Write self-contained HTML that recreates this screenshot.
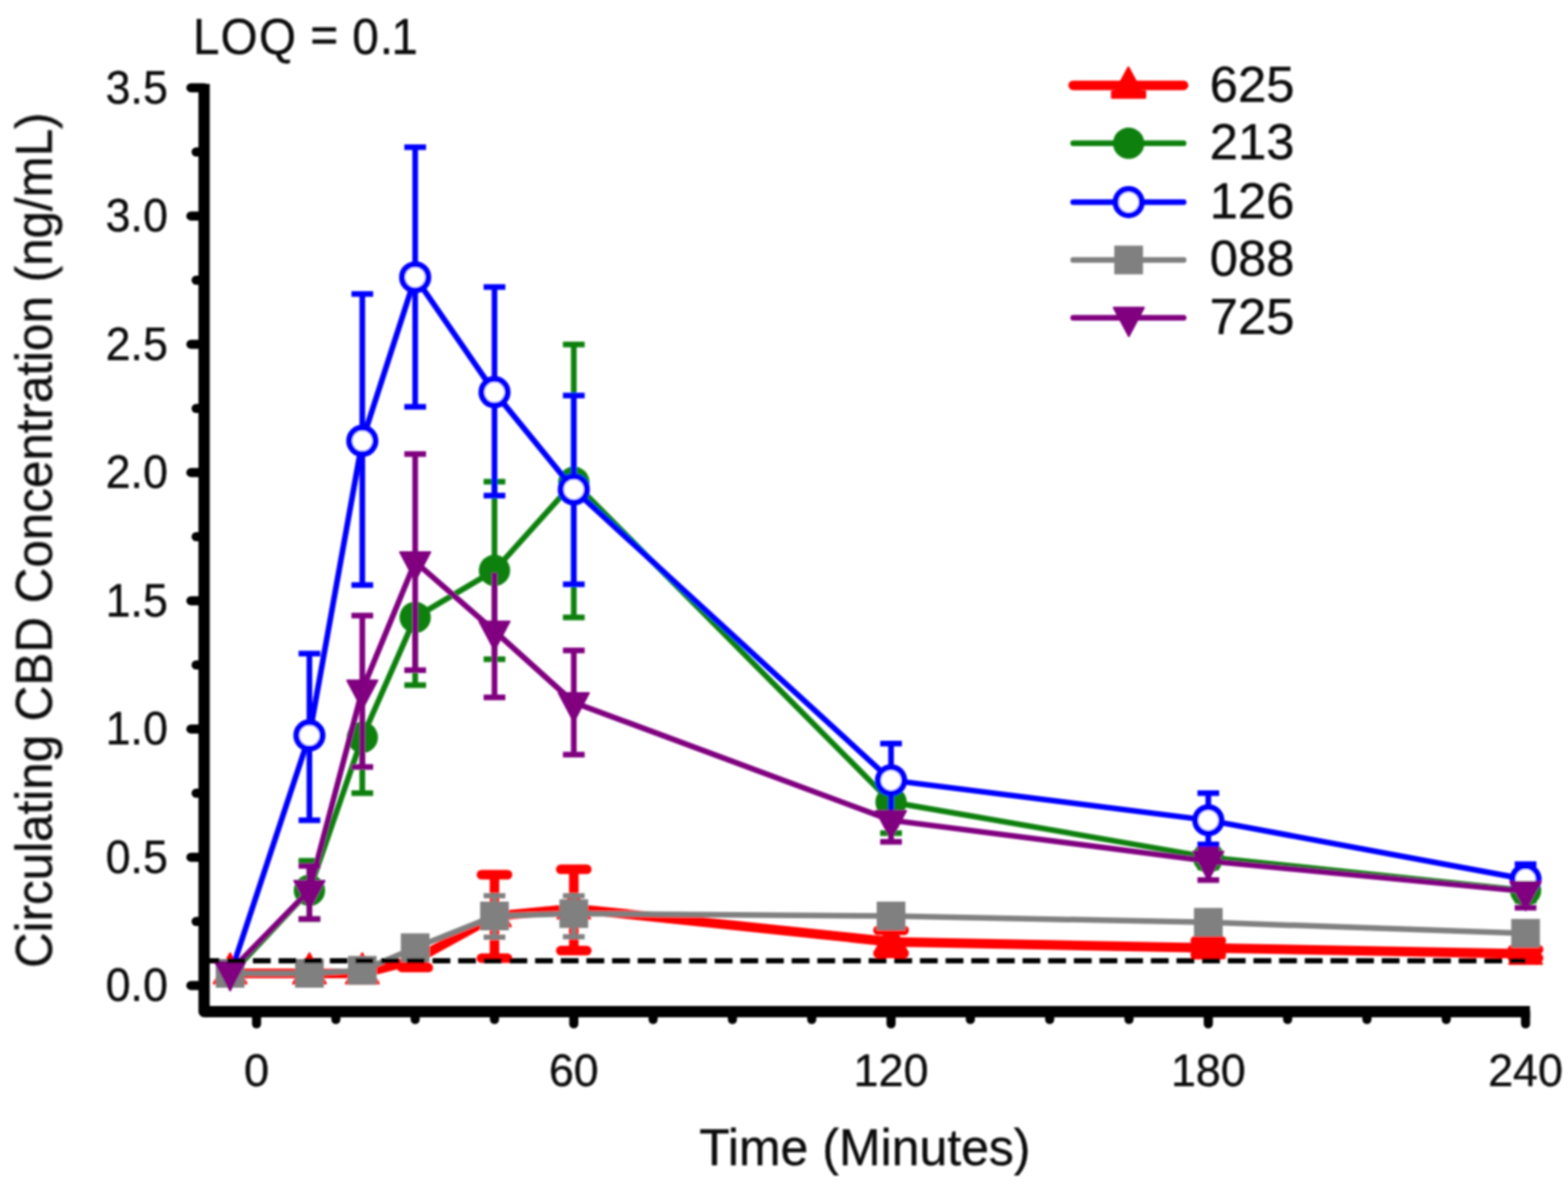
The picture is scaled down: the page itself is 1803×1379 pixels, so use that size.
<!DOCTYPE html>
<html><head><meta charset="utf-8"><title>Circulating CBD Concentration</title>
<style>html,body{margin:0;padding:0;background:#fff;overflow:hidden;}svg{display:block;}</style>
</head><body>
<svg width="1803" height="1379" viewBox="0 0 1803 1379"><defs><filter id="soft" x="0" y="0" width="100%" height="100%" filterUnits="userSpaceOnUse"><feGaussianBlur stdDeviation="1.3"/></filter></defs><rect width="1803" height="1379" fill="#fff"/><g filter="url(#soft)"><text x="193" y="1151.2" text-anchor="end" font-size="53" textLength="71.5" lengthAdjust="spacingAndGlyphs" font-family="Liberation Sans, Arial, sans-serif" fill="#111" stroke="#111" stroke-width="0.45">0.0</text>
<text x="193" y="1003.7" text-anchor="end" font-size="53" textLength="71.5" lengthAdjust="spacingAndGlyphs" font-family="Liberation Sans, Arial, sans-serif" fill="#111" stroke="#111" stroke-width="0.45">0.5</text>
<text x="193" y="856.2" text-anchor="end" font-size="53" textLength="71.5" lengthAdjust="spacingAndGlyphs" font-family="Liberation Sans, Arial, sans-serif" fill="#111" stroke="#111" stroke-width="0.45">1.0</text>
<text x="193" y="708.7" text-anchor="end" font-size="53" textLength="71.5" lengthAdjust="spacingAndGlyphs" font-family="Liberation Sans, Arial, sans-serif" fill="#111" stroke="#111" stroke-width="0.45">1.5</text>
<text x="193" y="561.2" text-anchor="end" font-size="53" textLength="71.5" lengthAdjust="spacingAndGlyphs" font-family="Liberation Sans, Arial, sans-serif" fill="#111" stroke="#111" stroke-width="0.45">2.0</text>
<text x="193" y="413.7" text-anchor="end" font-size="53" textLength="71.5" lengthAdjust="spacingAndGlyphs" font-family="Liberation Sans, Arial, sans-serif" fill="#111" stroke="#111" stroke-width="0.45">2.5</text>
<text x="193" y="266.2" text-anchor="end" font-size="53" textLength="71.5" lengthAdjust="spacingAndGlyphs" font-family="Liberation Sans, Arial, sans-serif" fill="#111" stroke="#111" stroke-width="0.45">3.0</text>
<text x="193" y="118.7" text-anchor="end" font-size="53" textLength="71.5" lengthAdjust="spacingAndGlyphs" font-family="Liberation Sans, Arial, sans-serif" fill="#111" stroke="#111" stroke-width="0.45">3.5</text>
<text x="295.0" y="1249" text-anchor="middle" font-size="52" textLength="29" lengthAdjust="spacingAndGlyphs" font-family="Liberation Sans, Arial, sans-serif" fill="#111" stroke="#111" stroke-width="0.45">0</text>
<text x="659.8" y="1249" text-anchor="middle" font-size="52" textLength="57" lengthAdjust="spacingAndGlyphs" font-family="Liberation Sans, Arial, sans-serif" fill="#111" stroke="#111" stroke-width="0.45">60</text>
<text x="1024.6" y="1249" text-anchor="middle" font-size="52" textLength="86" lengthAdjust="spacingAndGlyphs" font-family="Liberation Sans, Arial, sans-serif" fill="#111" stroke="#111" stroke-width="0.45">120</text>
<text x="1389.4" y="1249" text-anchor="middle" font-size="52" textLength="86" lengthAdjust="spacingAndGlyphs" font-family="Liberation Sans, Arial, sans-serif" fill="#111" stroke="#111" stroke-width="0.45">180</text>
<text x="1754.2" y="1249" text-anchor="middle" font-size="52" textLength="86" lengthAdjust="spacingAndGlyphs" font-family="Liberation Sans, Arial, sans-serif" fill="#111" stroke="#111" stroke-width="0.45">240</text>
<text x="994.5" y="1339.5" text-anchor="middle" font-size="58.5" textLength="381" lengthAdjust="spacingAndGlyphs" font-family="Liberation Sans, Arial, sans-serif" fill="#111" stroke="#111" stroke-width="0.45">Time (Minutes)</text>
<text transform="translate(59.5,621.3) rotate(-90)" x="0" y="0" text-anchor="middle" font-size="58.4" textLength="984" lengthAdjust="spacingAndGlyphs" font-family="Liberation Sans, Arial, sans-serif" fill="#111" stroke="#111" stroke-width="0.45">Circulating CBD Concentration (ng/mL)</text>
<text transform="scale(0.947,1)" x="234.1 267.6 314.5 360.1 376.6 411.2 427.7 461.2 475.2" y="62.2 62.2 62.2 62.2 60.4 62.2 62.2 62.2 62.2" font-size="58" font-family="Liberation Sans, Arial, sans-serif" fill="#111" stroke="#111" stroke-width="0.45">LOQ = 0.1</text>
<g>
<line x1="477.4" y1="1103.9" x2="477.4" y2="1112.8" stroke="#ff0000" stroke-width="11"/>
<line x1="462.4" y1="1112.8" x2="492.4" y2="1112.8" stroke="#ff0000" stroke-width="11" stroke-linecap="round"/>
<line x1="568.6" y1="1053.8" x2="568.6" y2="1006.0" stroke="#ff0000" stroke-width="11"/>
<line x1="553.6" y1="1006.0" x2="583.6" y2="1006.0" stroke="#ff0000" stroke-width="11" stroke-linecap="round"/>
<line x1="568.6" y1="1053.8" x2="568.6" y2="1102.1" stroke="#ff0000" stroke-width="11"/>
<line x1="553.6" y1="1102.1" x2="583.6" y2="1102.1" stroke="#ff0000" stroke-width="11" stroke-linecap="round"/>
<line x1="659.8" y1="1044.9" x2="659.8" y2="999.8" stroke="#ff0000" stroke-width="11"/>
<line x1="644.8" y1="999.8" x2="674.8" y2="999.8" stroke="#ff0000" stroke-width="11" stroke-linecap="round"/>
<line x1="659.8" y1="1044.9" x2="659.8" y2="1093.3" stroke="#ff0000" stroke-width="11"/>
<line x1="644.8" y1="1093.3" x2="674.8" y2="1093.3" stroke="#ff0000" stroke-width="11" stroke-linecap="round"/>
<line x1="1024.6" y1="1083.2" x2="1024.6" y2="1070.0" stroke="#ff0000" stroke-width="11"/>
<line x1="1009.6" y1="1070.0" x2="1039.6" y2="1070.0" stroke="#ff0000" stroke-width="11" stroke-linecap="round"/>
<line x1="1024.6" y1="1083.2" x2="1024.6" y2="1096.5" stroke="#ff0000" stroke-width="11"/>
<line x1="1009.6" y1="1096.5" x2="1039.6" y2="1096.5" stroke="#ff0000" stroke-width="11" stroke-linecap="round"/>
<line x1="1389.4" y1="1090.3" x2="1389.4" y2="1081.8" stroke="#ff0000" stroke-width="11"/>
<line x1="1374.4" y1="1081.8" x2="1404.4" y2="1081.8" stroke="#ff0000" stroke-width="11" stroke-linecap="round"/>
<line x1="1389.4" y1="1090.3" x2="1389.4" y2="1098.0" stroke="#ff0000" stroke-width="11"/>
<line x1="1374.4" y1="1098.0" x2="1404.4" y2="1098.0" stroke="#ff0000" stroke-width="11" stroke-linecap="round"/>
<line x1="1754.2" y1="1097.1" x2="1754.2" y2="1092.1" stroke="#ff0000" stroke-width="11"/>
<line x1="1739.2" y1="1092.1" x2="1769.2" y2="1092.1" stroke="#ff0000" stroke-width="11" stroke-linecap="round"/>
<line x1="1754.2" y1="1097.1" x2="1754.2" y2="1101.8" stroke="#ff0000" stroke-width="11"/>
<line x1="1739.2" y1="1101.8" x2="1769.2" y2="1101.8" stroke="#ff0000" stroke-width="11" stroke-linecap="round"/>
<polyline points="264.6,1119.5 355.8,1119.5 416.6,1119.5 477.4,1103.9 568.6,1053.8 659.8,1044.9 1024.6,1083.2 1389.4,1090.3 1754.2,1097.1" fill="none" stroke="#ff0000" stroke-width="11" stroke-linejoin="round" stroke-linecap="round"/>
<path d="M264.6 1096.2L283.6 1131.2L245.6 1131.2Z" fill="#ff0000" stroke="#ff0000" stroke-width="2" stroke-linejoin="round"/>
<path d="M355.8 1096.2L374.8 1131.2L336.8 1131.2Z" fill="#ff0000" stroke="#ff0000" stroke-width="2" stroke-linejoin="round"/>
<path d="M416.6 1096.2L435.6 1131.2L397.6 1131.2Z" fill="#ff0000" stroke="#ff0000" stroke-width="2" stroke-linejoin="round"/>
<path d="M477.4 1080.6L496.4 1115.6L458.4 1115.6Z" fill="#ff0000" stroke="#ff0000" stroke-width="2" stroke-linejoin="round"/>
<path d="M568.6 1030.4L587.6 1065.4L549.6 1065.4Z" fill="#ff0000" stroke="#ff0000" stroke-width="2" stroke-linejoin="round"/>
<path d="M659.8 1021.6L678.8 1056.6L640.8 1056.6Z" fill="#ff0000" stroke="#ff0000" stroke-width="2" stroke-linejoin="round"/>
<path d="M1024.6 1059.9L1043.6 1094.9L1005.6 1094.9Z" fill="#ff0000" stroke="#ff0000" stroke-width="2" stroke-linejoin="round"/>
<path d="M1389.4 1067.0L1408.4 1102.0L1370.4 1102.0Z" fill="#ff0000" stroke="#ff0000" stroke-width="2" stroke-linejoin="round"/>
<path d="M1754.2 1073.8L1773.2 1108.8L1735.2 1108.8Z" fill="#ff0000" stroke="#ff0000" stroke-width="2" stroke-linejoin="round"/>
</g>
<g>
<line x1="355.8" y1="1024.0" x2="355.8" y2="990.0" stroke="#0a800a" stroke-width="6.5"/>
<line x1="343.3" y1="990.0" x2="368.3" y2="990.0" stroke="#0a800a" stroke-width="6.5" stroke-linecap="butt"/>
<line x1="355.8" y1="1024.0" x2="355.8" y2="1057.0" stroke="#0a800a" stroke-width="6.5"/>
<line x1="343.3" y1="1057.0" x2="368.3" y2="1057.0" stroke="#0a800a" stroke-width="6.5" stroke-linecap="butt"/>
<line x1="416.6" y1="848.1" x2="416.6" y2="912.2" stroke="#0a800a" stroke-width="6.5"/>
<line x1="404.1" y1="912.2" x2="429.1" y2="912.2" stroke="#0a800a" stroke-width="6.5" stroke-linecap="butt"/>
<line x1="477.4" y1="710.1" x2="477.4" y2="788.0" stroke="#0a800a" stroke-width="6.5"/>
<line x1="464.9" y1="788.0" x2="489.9" y2="788.0" stroke="#0a800a" stroke-width="6.5" stroke-linecap="butt"/>
<line x1="568.6" y1="656.1" x2="568.6" y2="554.0" stroke="#0a800a" stroke-width="6.5"/>
<line x1="556.1" y1="554.0" x2="581.1" y2="554.0" stroke="#0a800a" stroke-width="6.5" stroke-linecap="butt"/>
<line x1="568.6" y1="656.1" x2="568.6" y2="758.2" stroke="#0a800a" stroke-width="6.5"/>
<line x1="556.1" y1="758.2" x2="581.1" y2="758.2" stroke="#0a800a" stroke-width="6.5" stroke-linecap="butt"/>
<line x1="659.8" y1="554.6" x2="659.8" y2="396.2" stroke="#0a800a" stroke-width="6.5"/>
<line x1="647.3" y1="396.2" x2="672.3" y2="396.2" stroke="#0a800a" stroke-width="6.5" stroke-linecap="butt"/>
<line x1="659.8" y1="554.6" x2="659.8" y2="710.1" stroke="#0a800a" stroke-width="6.5"/>
<line x1="647.3" y1="710.1" x2="672.3" y2="710.1" stroke="#0a800a" stroke-width="6.5" stroke-linecap="butt"/>
<line x1="1024.6" y1="922.5" x2="1024.6" y2="909.2" stroke="#0a800a" stroke-width="6.5"/>
<line x1="1012.1" y1="909.2" x2="1037.1" y2="909.2" stroke="#0a800a" stroke-width="6.5" stroke-linecap="butt"/>
<line x1="1024.6" y1="922.5" x2="1024.6" y2="958.2" stroke="#0a800a" stroke-width="6.5"/>
<line x1="1012.1" y1="958.2" x2="1037.1" y2="958.2" stroke="#0a800a" stroke-width="6.5" stroke-linecap="butt"/>
<line x1="1389.4" y1="985.9" x2="1389.4" y2="977.1" stroke="#0a800a" stroke-width="6.5"/>
<line x1="1376.9" y1="977.1" x2="1401.9" y2="977.1" stroke="#0a800a" stroke-width="6.5" stroke-linecap="butt"/>
<line x1="1389.4" y1="985.9" x2="1389.4" y2="997.7" stroke="#0a800a" stroke-width="6.5"/>
<line x1="1376.9" y1="997.7" x2="1401.9" y2="997.7" stroke="#0a800a" stroke-width="6.5" stroke-linecap="butt"/>
<line x1="1754.2" y1="1024.2" x2="1754.2" y2="1018.4" stroke="#0a800a" stroke-width="6.5"/>
<line x1="1741.7" y1="1018.4" x2="1766.7" y2="1018.4" stroke="#0a800a" stroke-width="6.5" stroke-linecap="butt"/>
<line x1="1754.2" y1="1024.2" x2="1754.2" y2="1036.1" stroke="#0a800a" stroke-width="6.5"/>
<line x1="1741.7" y1="1036.1" x2="1766.7" y2="1036.1" stroke="#0a800a" stroke-width="6.5" stroke-linecap="butt"/>
<polyline points="264.6,1121.6 355.8,1024.0 416.6,848.1 477.4,710.1 568.6,656.1 659.8,554.6 1024.6,922.5 1389.4,985.9 1754.2,1024.2" fill="none" stroke="#0a800a" stroke-width="6.5" stroke-linejoin="round" stroke-linecap="round"/>
<ellipse cx="355.8" cy="1024.0" rx="18.0" ry="18.0" fill="#0a800a"/>
<ellipse cx="416.6" cy="848.1" rx="18.0" ry="18.0" fill="#0a800a"/>
<ellipse cx="477.4" cy="710.1" rx="18.0" ry="18.0" fill="#0a800a"/>
<ellipse cx="568.6" cy="656.1" rx="18.0" ry="18.0" fill="#0a800a"/>
<ellipse cx="659.8" cy="554.6" rx="18.0" ry="18.0" fill="#0a800a"/>
<ellipse cx="1024.6" cy="922.5" rx="18.0" ry="18.0" fill="#0a800a"/>
<ellipse cx="1389.4" cy="985.9" rx="18.0" ry="18.0" fill="#0a800a"/>
<ellipse cx="1754.2" cy="1024.2" rx="18.0" ry="18.0" fill="#0a800a"/>
</g>
<g>
<line x1="355.8" y1="845.8" x2="355.8" y2="751.7" stroke="#0000ff" stroke-width="6.5"/>
<line x1="343.3" y1="751.7" x2="368.3" y2="751.7" stroke="#0000ff" stroke-width="6.5" stroke-linecap="butt"/>
<line x1="355.8" y1="845.8" x2="355.8" y2="943.4" stroke="#0000ff" stroke-width="6.5"/>
<line x1="343.3" y1="943.4" x2="368.3" y2="943.4" stroke="#0000ff" stroke-width="6.5" stroke-linecap="butt"/>
<line x1="416.6" y1="507.1" x2="416.6" y2="338.1" stroke="#0000ff" stroke-width="6.5"/>
<line x1="404.1" y1="338.1" x2="429.1" y2="338.1" stroke="#0000ff" stroke-width="6.5" stroke-linecap="butt"/>
<line x1="416.6" y1="507.1" x2="416.6" y2="672.9" stroke="#0000ff" stroke-width="6.5"/>
<line x1="404.1" y1="672.9" x2="429.1" y2="672.9" stroke="#0000ff" stroke-width="6.5" stroke-linecap="butt"/>
<line x1="477.4" y1="318.9" x2="477.4" y2="169.3" stroke="#0000ff" stroke-width="6.5"/>
<line x1="464.9" y1="169.3" x2="489.9" y2="169.3" stroke="#0000ff" stroke-width="6.5" stroke-linecap="butt"/>
<line x1="477.4" y1="318.9" x2="477.4" y2="467.9" stroke="#0000ff" stroke-width="6.5"/>
<line x1="464.9" y1="467.9" x2="489.9" y2="467.9" stroke="#0000ff" stroke-width="6.5" stroke-linecap="butt"/>
<line x1="568.6" y1="451.1" x2="568.6" y2="330.1" stroke="#0000ff" stroke-width="6.5"/>
<line x1="556.1" y1="330.1" x2="581.1" y2="330.1" stroke="#0000ff" stroke-width="6.5" stroke-linecap="butt"/>
<line x1="568.6" y1="451.1" x2="568.6" y2="570.0" stroke="#0000ff" stroke-width="6.5"/>
<line x1="556.1" y1="570.0" x2="581.1" y2="570.0" stroke="#0000ff" stroke-width="6.5" stroke-linecap="butt"/>
<line x1="659.8" y1="562.9" x2="659.8" y2="454.9" stroke="#0000ff" stroke-width="6.5"/>
<line x1="647.3" y1="454.9" x2="672.3" y2="454.9" stroke="#0000ff" stroke-width="6.5" stroke-linecap="butt"/>
<line x1="659.8" y1="562.9" x2="659.8" y2="672.0" stroke="#0000ff" stroke-width="6.5"/>
<line x1="647.3" y1="672.0" x2="672.3" y2="672.0" stroke="#0000ff" stroke-width="6.5" stroke-linecap="butt"/>
<line x1="1024.6" y1="897.4" x2="1024.6" y2="855.2" stroke="#0000ff" stroke-width="6.5"/>
<line x1="1012.1" y1="855.2" x2="1037.1" y2="855.2" stroke="#0000ff" stroke-width="6.5" stroke-linecap="butt"/>
<line x1="1024.6" y1="897.4" x2="1024.6" y2="938.7" stroke="#0000ff" stroke-width="6.5"/>
<line x1="1012.1" y1="938.7" x2="1037.1" y2="938.7" stroke="#0000ff" stroke-width="6.5" stroke-linecap="butt"/>
<line x1="1389.4" y1="943.4" x2="1389.4" y2="912.2" stroke="#0000ff" stroke-width="6.5"/>
<line x1="1376.9" y1="912.2" x2="1401.9" y2="912.2" stroke="#0000ff" stroke-width="6.5" stroke-linecap="butt"/>
<line x1="1389.4" y1="943.4" x2="1389.4" y2="971.2" stroke="#0000ff" stroke-width="6.5"/>
<line x1="1376.9" y1="971.2" x2="1401.9" y2="971.2" stroke="#0000ff" stroke-width="6.5" stroke-linecap="butt"/>
<line x1="1754.2" y1="1011.3" x2="1754.2" y2="993.9" stroke="#0000ff" stroke-width="6.5"/>
<line x1="1741.7" y1="993.9" x2="1766.7" y2="993.9" stroke="#0000ff" stroke-width="6.5" stroke-linecap="butt"/>
<line x1="1754.2" y1="1011.3" x2="1754.2" y2="1021.3" stroke="#0000ff" stroke-width="6.5"/>
<line x1="1741.7" y1="1021.3" x2="1766.7" y2="1021.3" stroke="#0000ff" stroke-width="6.5" stroke-linecap="butt"/>
<polyline points="264.6,1121.6 355.8,845.8 416.6,507.1 477.4,318.9 568.6,451.1 659.8,562.9 1024.6,897.4 1389.4,943.4 1754.2,1011.3" fill="none" stroke="#0000ff" stroke-width="6.5" stroke-linejoin="round" stroke-linecap="round"/>
<ellipse cx="355.8" cy="845.8" rx="15.0" ry="15.0" fill="#fff" stroke="#0000ff" stroke-width="7"/>
<ellipse cx="416.6" cy="507.1" rx="15.0" ry="15.0" fill="#fff" stroke="#0000ff" stroke-width="7"/>
<ellipse cx="477.4" cy="318.9" rx="15.0" ry="15.0" fill="#fff" stroke="#0000ff" stroke-width="7"/>
<ellipse cx="568.6" cy="451.1" rx="15.0" ry="15.0" fill="#fff" stroke="#0000ff" stroke-width="7"/>
<ellipse cx="659.8" cy="562.9" rx="15.0" ry="15.0" fill="#fff" stroke="#0000ff" stroke-width="7"/>
<ellipse cx="1024.6" cy="897.4" rx="15.0" ry="15.0" fill="#fff" stroke="#0000ff" stroke-width="7"/>
<ellipse cx="1389.4" cy="943.4" rx="15.0" ry="15.0" fill="#fff" stroke="#0000ff" stroke-width="7"/>
<ellipse cx="1754.2" cy="1011.3" rx="15.0" ry="15.0" fill="#fff" stroke="#0000ff" stroke-width="7"/>
</g>
<g>
<line x1="568.6" y1="1053.5" x2="568.6" y2="1030.2" stroke="#808080" stroke-width="6"/>
<line x1="556.1" y1="1030.2" x2="581.1" y2="1030.2" stroke="#808080" stroke-width="6" stroke-linecap="butt"/>
<line x1="568.6" y1="1053.5" x2="568.6" y2="1077.9" stroke="#808080" stroke-width="6"/>
<line x1="556.1" y1="1077.9" x2="581.1" y2="1077.9" stroke="#808080" stroke-width="6" stroke-linecap="butt"/>
<line x1="659.8" y1="1050.8" x2="659.8" y2="1030.2" stroke="#808080" stroke-width="6"/>
<line x1="647.3" y1="1030.2" x2="672.3" y2="1030.2" stroke="#808080" stroke-width="6" stroke-linecap="butt"/>
<line x1="659.8" y1="1050.8" x2="659.8" y2="1077.4" stroke="#808080" stroke-width="6"/>
<line x1="647.3" y1="1077.4" x2="672.3" y2="1077.4" stroke="#808080" stroke-width="6" stroke-linecap="butt"/>
<polyline points="264.6,1119.5 355.8,1119.5 416.6,1116.0 477.4,1090.0 568.6,1053.5 659.8,1050.8 1024.6,1053.5 1389.4,1060.8 1754.2,1073.4" fill="none" stroke="#808080" stroke-width="6.5" stroke-linejoin="round" stroke-linecap="round"/>
<rect x="248.1" y="1103.0" width="33.0" height="33.0" fill="#808080"/>
<rect x="339.3" y="1103.0" width="33.0" height="33.0" fill="#808080"/>
<rect x="400.1" y="1099.5" width="33.0" height="33.0" fill="#808080"/>
<rect x="460.9" y="1073.5" width="33.0" height="33.0" fill="#808080"/>
<rect x="552.1" y="1037.0" width="33.0" height="33.0" fill="#808080"/>
<rect x="643.3" y="1034.3" width="33.0" height="33.0" fill="#808080"/>
<rect x="1008.1" y="1037.0" width="33.0" height="33.0" fill="#808080"/>
<rect x="1372.9" y="1044.3" width="33.0" height="33.0" fill="#808080"/>
<rect x="1737.7" y="1056.9" width="33.0" height="33.0" fill="#808080"/>
</g>
<g>
<line x1="355.8" y1="1024.0" x2="355.8" y2="995.9" stroke="#800080" stroke-width="6.5"/>
<line x1="343.3" y1="995.9" x2="368.3" y2="995.9" stroke="#800080" stroke-width="6.5" stroke-linecap="butt"/>
<line x1="355.8" y1="1024.0" x2="355.8" y2="1057.0" stroke="#800080" stroke-width="6.5"/>
<line x1="343.3" y1="1057.0" x2="368.3" y2="1057.0" stroke="#800080" stroke-width="6.5" stroke-linecap="butt"/>
<line x1="416.6" y1="793.6" x2="416.6" y2="708.0" stroke="#800080" stroke-width="6.5"/>
<line x1="404.1" y1="708.0" x2="429.1" y2="708.0" stroke="#800080" stroke-width="6.5" stroke-linecap="butt"/>
<line x1="416.6" y1="793.6" x2="416.6" y2="882.1" stroke="#800080" stroke-width="6.5"/>
<line x1="404.1" y1="882.1" x2="429.1" y2="882.1" stroke="#800080" stroke-width="6.5" stroke-linecap="butt"/>
<line x1="477.4" y1="646.1" x2="477.4" y2="522.2" stroke="#800080" stroke-width="6.5"/>
<line x1="464.9" y1="522.2" x2="489.9" y2="522.2" stroke="#800080" stroke-width="6.5" stroke-linecap="butt"/>
<line x1="477.4" y1="646.1" x2="477.4" y2="770.8" stroke="#800080" stroke-width="6.5"/>
<line x1="464.9" y1="770.8" x2="489.9" y2="770.8" stroke="#800080" stroke-width="6.5" stroke-linecap="butt"/>
<line x1="568.6" y1="725.7" x2="568.6" y2="658.5" stroke="#800080" stroke-width="6.5"/>
<line x1="568.6" y1="725.7" x2="568.6" y2="802.1" stroke="#800080" stroke-width="6.5"/>
<line x1="556.1" y1="802.1" x2="581.1" y2="802.1" stroke="#800080" stroke-width="6.5" stroke-linecap="butt"/>
<line x1="659.8" y1="808.0" x2="659.8" y2="748.1" stroke="#800080" stroke-width="6.5"/>
<line x1="647.3" y1="748.1" x2="672.3" y2="748.1" stroke="#800080" stroke-width="6.5" stroke-linecap="butt"/>
<line x1="659.8" y1="808.0" x2="659.8" y2="867.9" stroke="#800080" stroke-width="6.5"/>
<line x1="647.3" y1="867.9" x2="672.3" y2="867.9" stroke="#800080" stroke-width="6.5" stroke-linecap="butt"/>
<line x1="1024.6" y1="943.4" x2="1024.6" y2="968.2" stroke="#800080" stroke-width="6.5"/>
<line x1="1012.1" y1="968.2" x2="1037.1" y2="968.2" stroke="#800080" stroke-width="6.5" stroke-linecap="butt"/>
<line x1="1389.4" y1="990.3" x2="1389.4" y2="977.1" stroke="#800080" stroke-width="6.5"/>
<line x1="1376.9" y1="977.1" x2="1401.9" y2="977.1" stroke="#800080" stroke-width="6.5" stroke-linecap="butt"/>
<line x1="1389.4" y1="990.3" x2="1389.4" y2="1012.2" stroke="#800080" stroke-width="6.5"/>
<line x1="1376.9" y1="1012.2" x2="1401.9" y2="1012.2" stroke="#800080" stroke-width="6.5" stroke-linecap="butt"/>
<line x1="1754.2" y1="1025.1" x2="1754.2" y2="1018.4" stroke="#800080" stroke-width="6.5"/>
<line x1="1741.7" y1="1018.4" x2="1766.7" y2="1018.4" stroke="#800080" stroke-width="6.5" stroke-linecap="butt"/>
<line x1="1754.2" y1="1025.1" x2="1754.2" y2="1044.0" stroke="#800080" stroke-width="6.5"/>
<line x1="1741.7" y1="1044.0" x2="1766.7" y2="1044.0" stroke="#800080" stroke-width="6.5" stroke-linecap="butt"/>
<polyline points="264.6,1117.2 355.8,1024.0 416.6,793.6 477.4,646.1 568.6,725.7 659.8,808.0 1024.6,943.4 1389.4,990.3 1754.2,1025.1" fill="none" stroke="#800080" stroke-width="6.5" stroke-linejoin="round" stroke-linecap="round"/>
<path d="M247.1 1106.2L282.1 1106.2L264.6 1139.2Z" fill="#800080" stroke="#800080" stroke-width="2" stroke-linejoin="round"/>
<path d="M338.3 1013.0L373.3 1013.0L355.8 1046.0Z" fill="#800080" stroke="#800080" stroke-width="2" stroke-linejoin="round"/>
<path d="M399.1 782.6L434.1 782.6L416.6 815.6Z" fill="#800080" stroke="#800080" stroke-width="2" stroke-linejoin="round"/>
<path d="M459.9 635.1L494.9 635.1L477.4 668.1Z" fill="#800080" stroke="#800080" stroke-width="2" stroke-linejoin="round"/>
<path d="M551.1 714.7L586.1 714.7L568.6 747.7Z" fill="#800080" stroke="#800080" stroke-width="2" stroke-linejoin="round"/>
<path d="M642.3 797.0L677.3 797.0L659.8 830.0Z" fill="#800080" stroke="#800080" stroke-width="2" stroke-linejoin="round"/>
<path d="M1007.1 932.4L1042.1 932.4L1024.6 965.4Z" fill="#800080" stroke="#800080" stroke-width="2" stroke-linejoin="round"/>
<path d="M1371.9 979.3L1406.9 979.3L1389.4 1012.3Z" fill="#800080" stroke="#800080" stroke-width="2" stroke-linejoin="round"/>
<path d="M1736.7 1014.1L1771.7 1014.1L1754.2 1047.1Z" fill="#800080" stroke="#800080" stroke-width="2" stroke-linejoin="round"/>
</g>
<line x1="241.0" y1="1105" x2="1754.2" y2="1105" stroke="#000" stroke-width="6" stroke-dasharray="20.5 9.0" stroke-dashoffset="9.20"/>
<path d="M234.7 96.4 L234.7 1163.5 L1759.2 1163.5" fill="none" stroke="#000" stroke-width="13" stroke-linejoin="round"/>
<line x1="219.5" y1="1133.4" x2="234.7" y2="1133.4" stroke="#000" stroke-width="10.5" stroke-linecap="round"/>
<line x1="225.5" y1="1059.7" x2="234.7" y2="1059.7" stroke="#000" stroke-width="10.5" stroke-linecap="round"/>
<line x1="219.5" y1="985.9" x2="234.7" y2="985.9" stroke="#000" stroke-width="10.5" stroke-linecap="round"/>
<line x1="225.5" y1="912.2" x2="234.7" y2="912.2" stroke="#000" stroke-width="10.5" stroke-linecap="round"/>
<line x1="219.5" y1="838.4" x2="234.7" y2="838.4" stroke="#000" stroke-width="10.5" stroke-linecap="round"/>
<line x1="225.5" y1="764.7" x2="234.7" y2="764.7" stroke="#000" stroke-width="10.5" stroke-linecap="round"/>
<line x1="219.5" y1="690.9" x2="234.7" y2="690.9" stroke="#000" stroke-width="10.5" stroke-linecap="round"/>
<line x1="225.5" y1="617.2" x2="234.7" y2="617.2" stroke="#000" stroke-width="10.5" stroke-linecap="round"/>
<line x1="219.5" y1="543.4" x2="234.7" y2="543.4" stroke="#000" stroke-width="10.5" stroke-linecap="round"/>
<line x1="225.5" y1="469.7" x2="234.7" y2="469.7" stroke="#000" stroke-width="10.5" stroke-linecap="round"/>
<line x1="219.5" y1="395.9" x2="234.7" y2="395.9" stroke="#000" stroke-width="10.5" stroke-linecap="round"/>
<line x1="225.5" y1="322.2" x2="234.7" y2="322.2" stroke="#000" stroke-width="10.5" stroke-linecap="round"/>
<line x1="219.5" y1="248.4" x2="234.7" y2="248.4" stroke="#000" stroke-width="10.5" stroke-linecap="round"/>
<line x1="225.5" y1="174.7" x2="234.7" y2="174.7" stroke="#000" stroke-width="10.5" stroke-linecap="round"/>
<line x1="219.5" y1="100.9" x2="234.7" y2="100.9" stroke="#000" stroke-width="10.5" stroke-linecap="round"/>
<line x1="295.0" y1="1163.5" x2="295.0" y2="1177.5" stroke="#000" stroke-width="10.5" stroke-linecap="round"/>
<line x1="386.2" y1="1163.5" x2="386.2" y2="1172.5" stroke="#000" stroke-width="10.5" stroke-linecap="round"/>
<line x1="477.4" y1="1163.5" x2="477.4" y2="1172.5" stroke="#000" stroke-width="10.5" stroke-linecap="round"/>
<line x1="568.6" y1="1163.5" x2="568.6" y2="1172.5" stroke="#000" stroke-width="10.5" stroke-linecap="round"/>
<line x1="659.8" y1="1163.5" x2="659.8" y2="1177.5" stroke="#000" stroke-width="10.5" stroke-linecap="round"/>
<line x1="751.0" y1="1163.5" x2="751.0" y2="1172.5" stroke="#000" stroke-width="10.5" stroke-linecap="round"/>
<line x1="842.2" y1="1163.5" x2="842.2" y2="1172.5" stroke="#000" stroke-width="10.5" stroke-linecap="round"/>
<line x1="933.4" y1="1163.5" x2="933.4" y2="1172.5" stroke="#000" stroke-width="10.5" stroke-linecap="round"/>
<line x1="1024.6" y1="1163.5" x2="1024.6" y2="1177.5" stroke="#000" stroke-width="10.5" stroke-linecap="round"/>
<line x1="1115.8" y1="1163.5" x2="1115.8" y2="1172.5" stroke="#000" stroke-width="10.5" stroke-linecap="round"/>
<line x1="1207.0" y1="1163.5" x2="1207.0" y2="1172.5" stroke="#000" stroke-width="10.5" stroke-linecap="round"/>
<line x1="1298.2" y1="1163.5" x2="1298.2" y2="1172.5" stroke="#000" stroke-width="10.5" stroke-linecap="round"/>
<line x1="1389.4" y1="1163.5" x2="1389.4" y2="1177.5" stroke="#000" stroke-width="10.5" stroke-linecap="round"/>
<line x1="1480.6" y1="1163.5" x2="1480.6" y2="1172.5" stroke="#000" stroke-width="10.5" stroke-linecap="round"/>
<line x1="1571.8" y1="1163.5" x2="1571.8" y2="1172.5" stroke="#000" stroke-width="10.5" stroke-linecap="round"/>
<line x1="1663.0" y1="1163.5" x2="1663.0" y2="1172.5" stroke="#000" stroke-width="10.5" stroke-linecap="round"/>
<line x1="1754.2" y1="1163.5" x2="1754.2" y2="1177.5" stroke="#000" stroke-width="10.5" stroke-linecap="round"/>
<line x1="1234" y1="98.2" x2="1361" y2="98.2" stroke="#ff0000" stroke-width="11" stroke-linecap="round"/>
<path d="M1297.5 77.3L1316.5 112.3L1278.5 112.3Z" fill="#ff0000" stroke="#ff0000" stroke-width="2" stroke-linejoin="round"/>
<rect x="1277.5" y="104" width="40.5" height="9.5" rx="1.5" fill="#ff0000"/>
<text x="1391" y="116.5" font-size="57" textLength="97.5" lengthAdjust="spacingAndGlyphs" font-family="Liberation Sans, Arial, sans-serif" fill="#111" stroke="#111" stroke-width="0.45">625</text>
<line x1="1234" y1="164.8" x2="1361" y2="164.8" stroke="#0a800a" stroke-width="6.5" stroke-linecap="round"/>
<ellipse cx="1297.8" cy="164.8" rx="18.0" ry="18.0" fill="#0a800a"/>
<text x="1391" y="183.1" font-size="57" textLength="97.5" lengthAdjust="spacingAndGlyphs" font-family="Liberation Sans, Arial, sans-serif" fill="#111" stroke="#111" stroke-width="0.45">213</text>
<line x1="1234" y1="232.5" x2="1361" y2="232.5" stroke="#0000ff" stroke-width="6.5" stroke-linecap="round"/>
<ellipse cx="1297.8" cy="232.5" rx="15.0" ry="15.0" fill="#fff" stroke="#0000ff" stroke-width="7"/>
<text x="1391" y="250.8" font-size="57" textLength="97.5" lengthAdjust="spacingAndGlyphs" font-family="Liberation Sans, Arial, sans-serif" fill="#111" stroke="#111" stroke-width="0.45">126</text>
<line x1="1234" y1="299" x2="1361" y2="299" stroke="#808080" stroke-width="6.5" stroke-linecap="round"/>
<rect x="1281.3" y="282.5" width="33.0" height="33.0" fill="#808080"/>
<text x="1391" y="317.3" font-size="57" textLength="97.5" lengthAdjust="spacingAndGlyphs" font-family="Liberation Sans, Arial, sans-serif" fill="#111" stroke="#111" stroke-width="0.45">088</text>
<line x1="1234" y1="365.6" x2="1361" y2="365.6" stroke="#800080" stroke-width="6.5" stroke-linecap="round"/>
<path d="M1280.5 353.8L1315.5 353.8L1298.0 386.8Z" fill="#800080" stroke="#800080" stroke-width="2" stroke-linejoin="round"/>
<text x="1391" y="383.9" font-size="57" textLength="97.5" lengthAdjust="spacingAndGlyphs" font-family="Liberation Sans, Arial, sans-serif" fill="#111" stroke="#111" stroke-width="0.45">725</text></g></svg>
</body></html>
